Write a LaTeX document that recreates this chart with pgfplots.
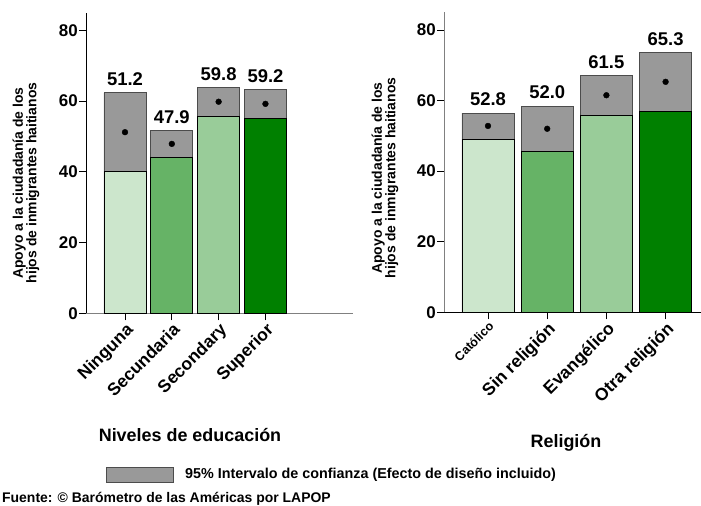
\documentclass[border=0pt]{standalone}
\usepackage{fontspec}
\setmainfont{Liberation Sans}
\usepackage{pgfplots}
\pgfplotsset{compat=1.18}

\definecolor{gA}{HTML}{CCE6CC}
\definecolor{gB}{HTML}{66B366}
\definecolor{gC}{HTML}{99CC99}
\definecolor{gD}{HTML}{008000}
\definecolor{ci}{HTML}{999999}

\pgfplotsset{
  lapop/.style={
    scale only axis, axis lines=left,
    axis line style={-, line width=0.9bp},
    ymin=0, ymax=85, ytick={0,20,40,60,80},
    tick align=outside, major tick length=7bp,
    tick style={black, line width=0.8bp},
    xtick={1,2,3,4},
    yticklabel style={font=\fontsize{17}{19}\selectfont\bfseries, inner sep=1bp},
    xticklabel style={font=\fontsize{17.5}{19}\selectfont\bfseries, rotate=45,
      anchor=north east, inner sep=1bp},
    /pgf/number format/assume math mode=true,
    clip=false,
  },
  ci bar/.style={ybar, bar shift=0pt, fill=ci, draw=black!70, line width=0.9bp},
  grp bar/.style={ybar, bar shift=0pt, fill=#1, draw=black, line width=0.9bp},
  mean dot/.style={only marks, mark=*, mark size=2.9bp, black},
  mean lab/.style={draw=none, mark=none, point meta=explicit symbolic,
    nodes near coords={\pgfplotspointmeta},
    every node near coord/.append style={anchor=south, inner sep=0pt, yshift=7bp,
      font=\fontsize{18.5}{20}\selectfont\bfseries}},
}

\begin{document}
\begin{tikzpicture}
\path[use as bounding box] (0,0) rectangle (701bp,506bp);

% educacion
\begin{axis}[lapop, at={(86bp,192.5bp)}, anchor=south west,
  width=267bp, height=301bp, xmin=0.167, xmax=5.87, bar width=42bp,
  xticklabels={Ninguna,Secundaria,Secondary,Superior},
  x axis line style={gray}]
\addplot[ci bar] coordinates {(1,62.3) (2,51.7) (3,63.7) (4,63.2)};
\addplot[grp bar=gA] coordinates {(1,40.0)};
\addplot[grp bar=gB] coordinates {(2,44.1)};
\addplot[grp bar=gC] coordinates {(3,55.7)};
\addplot[grp bar=gD] coordinates {(4,55.1)};
\addplot[mean dot] coordinates {(1,51.2) (2,47.9) (3,59.8) (4,59.2)};
\addplot[mean lab] coordinates {(1,62.3)[51.2] (2,51.7)[47.9] (3,63.7)[59.8] (4,63.2)[59.2]};
\end{axis}

% religion
\begin{axis}[lapop, at={(444bp,193.7bp)}, anchor=south west,
  width=257bp, height=300bp, xmin=0.257, xmax=4.598, bar width=52bp,
  xticklabels={{\fontsize{12.5}{14}\selectfont Católico},Sin religión,Evangélico,Otra religión},
  y axis line style={gray}]
\addplot[ci bar] coordinates {(1,56.4) (2,58.4) (3,67.0) (4,73.5)};
\addplot[grp bar=gA] coordinates {(1,49.1)};
\addplot[grp bar=gB] coordinates {(2,45.6)};
\addplot[grp bar=gC] coordinates {(3,55.9)};
\addplot[grp bar=gD] coordinates {(4,57.0)};
\addplot[mean dot] coordinates {(1,52.8) (2,52.0) (3,61.5) (4,65.3)};
\addplot[mean lab] coordinates {(1,56.4)[52.8] (2,58.4)[52.0] (3,67.0)[61.5] (4,73.5)[65.3]};
\end{axis}

\node[rotate=90, align=center, font=\fontsize{14}{13.5}\selectfont\bfseries]
  at (26bp,323bp) {Apoyo a la ciudadanía de los\\hijos de inmigrantes haitianos};
\node[rotate=90, align=center, font=\fontsize{14}{13.5}\selectfont\bfseries]
  at (385bp,328bp) {Apoyo a la ciudadanía de los\\hijos de inmigrantes haitianos};

\node[font=\fontsize{18}{20}\selectfont\bfseries] at (190bp,71bp) {Niveles de educación};
\node[font=\fontsize{18}{20}\selectfont\bfseries] at (566bp,63bp) {Religión};

\draw[fill=ci, draw=black!70, line width=0.9bp] (106bp,24bp) rectangle (173bp,39bp);
\node[anchor=west, inner sep=0pt, font=\fontsize{14.4}{16}\selectfont\bfseries]
  at (185bp,31.5bp) {95\% Intervalo de confianza (Efecto de diseño incluido)};
\node[anchor=west, inner sep=0pt, font=\fontsize{14}{16}\selectfont\bfseries]
  at (2bp,7bp) {Fuente: © Barómetro de las Américas por LAPOP};
\end{tikzpicture}
\end{document}
